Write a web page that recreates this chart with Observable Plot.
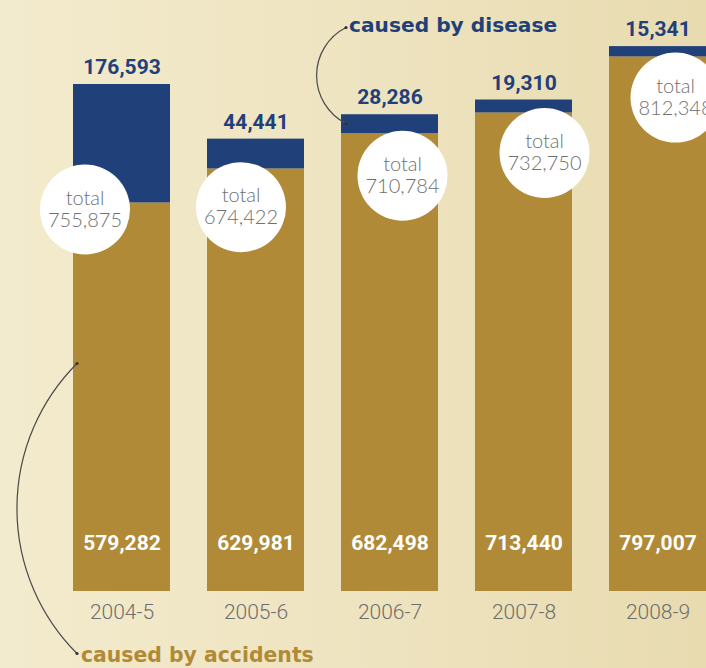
<!DOCTYPE html>
<html>
<head>
<meta charset="utf-8">
<script src="https://cdn.jsdelivr.net/npm/d3@7"></script>
<script src="https://cdn.jsdelivr.net/npm/@observablehq/plot@0.6"></script>
<style>
  html, body { margin: 0; padding: 0; }
  body { width: 706px; height: 668px; overflow: hidden;
    background: linear-gradient(90deg, #f3ebcd 0%, #eee3bf 55%, #e8dbb0 100%); }
  svg { display: block; background: transparent !important; }
</style>
</head>
<body>
<div id="chart"></div>
<script>
// ---- data ----
const years = ["2004-5", "2005-6", "2006-7", "2007-8", "2008-9"];
const accidents = [579282, 629981, 682498, 713440, 797007];
const disease = [176593, 44441, 28286, 19310, 15341];
const types = ["caused by accidents", "caused by disease"];

// ---- layout of the white "total" badges (pixel offsets from bar centre / bar top) ----
const badgeDx = [-37, -15, 12.5, 20.5, 17.5];
const badgeDy = [125, 68, 61, 53, 51];

const GOLD = "#b08a36";
const NAVY = "#1f4079";
const fmt = d3.format(",");

const rows = [];
years.forEach((y, i) => {
  rows.push({year: y, type: types[0], value: accidents[i]});
  rows.push({year: y, type: types[1], value: disease[i]});
});
const totals = years.map((y, i) => ({year: y, accidents: accidents[i], disease: disease[i], total: accidents[i] + disease[i]}));

// annotation anchors in data space
const diseaseNote = {year: "2006-7", y1: 840800, y2: 697700, ty: 843800};
const accidentNote = {year: "2004-5", y1: 339900, y2: -92400, ty: -95400};

const badgeMarks = [];
totals.forEach((d, i) => {
  badgeMarks.push(Plot.dot([d], {x: "year", y: "total", r: 45, fill: "white", stroke: "none", dx: badgeDx[i], dy: badgeDy[i]}));
  badgeMarks.push(Plot.text([d], {x: "year", y: "total", text: d => "total\n" + fmt(d.total),
    dx: badgeDx[i], dy: badgeDy[i] - 1, lineHeight: 1.1, fontSize: 20, fontWeight: 300,
    fontFamily: "Lato, Roboto, sans-serif", fill: "#707070"}));
});

const plot = Plot.plot({
  width: 706,
  height: 668,
  marginTop: 0,
  marginBottom: 77,
  marginLeft: 0,
  marginRight: 0,
  style: {background: "transparent", overflow: "hidden"},
  x: {domain: years, range: [35.25, 743.75], padding: 0.2775, align: 0.5, label: null},
  y: {domain: [0, 881100], axis: null},
  color: {domain: types, range: [GOLD, NAVY]},
  marks: [
    Plot.barY(rows, {x: "year", y: "value", fill: "type"}),
    Plot.axisX({tickSize: 0, tickPadding: 13, fontSize: 21, fontWeight: 300, fontFamily: "Roboto, sans-serif", color: "#6e6e6e", label: null}),
    // disease values above bars
    Plot.text(totals, {x: "year", y: "total", text: d => fmt(d.disease), dy: -17, fill: NAVY,
      fontSize: 21, fontWeight: 700, fontFamily: "Roboto, sans-serif"}),
    // accident values inside bars
    Plot.text(totals, {x: "year", y: () => 0, text: d => fmt(d.accidents), dy: -48, fill: "white",
      fontSize: 21, fontWeight: 700, fontFamily: "Roboto, sans-serif"}),
    ...badgeMarks,
    // annotation: disease
    Plot.arrow([diseaseNote], {x1: "year", x2: "year", y1: "y1", y2: "y2", bend: -63, headLength: 0,
      stroke: "#4a4a4a", strokeWidth: 1.2, dx: -44}),
    Plot.dot([diseaseNote], {x: "year", y: "y1", r: 1.6, fill: "#333", dx: -44}),
    Plot.dot([diseaseNote], {x: "year", y: "y2", r: 1.6, fill: "#333", dx: -44}),
    Plot.text([diseaseNote], {x: "year", y: "ty", text: () => types[1], textAnchor: "start", dx: -41,
      fill: NAVY, fontSize: 20.2, fontWeight: 700, fontFamily: "DejaVu Sans, sans-serif"}),
    // annotation: accidents
    Plot.arrow([accidentNote], {x1: "year", x2: "year", y1: "y1", y2: "y2", bend: -45, headLength: 0,
      stroke: "#4a4a4a", strokeWidth: 1.2, dx: -45}),
    Plot.dot([accidentNote], {x: "year", y: "y1", r: 1.6, fill: "#333", dx: -45}),
    Plot.dot([accidentNote], {x: "year", y: "y2", r: 1.6, fill: "#333", dx: -45}),
    Plot.text([accidentNote], {x: "year", y: "ty", text: () => types[0], textAnchor: "start", dx: -41,
      fill: GOLD, fontSize: 20.4, fontWeight: 700, fontFamily: "DejaVu Sans, sans-serif"})
  ]
});
document.getElementById("chart").appendChild(plot);
</script>
</body>
</html>
